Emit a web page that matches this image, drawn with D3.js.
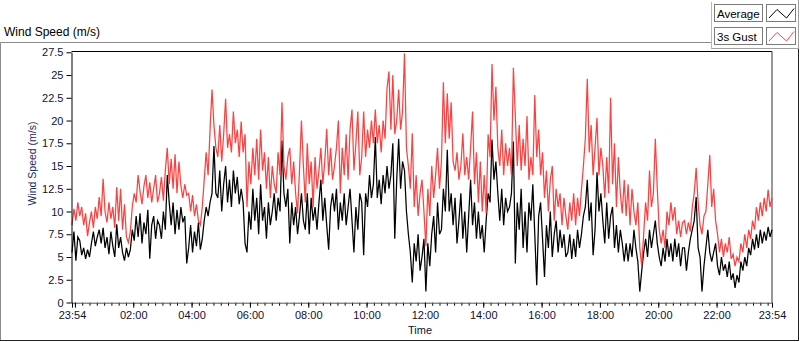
<!DOCTYPE html>
<html><head><meta charset="utf-8">
<script src="https://cdn.jsdelivr.net/npm/d3@7"></script>
<style>body{margin:0;background:#fff}svg{display:block}text{font-family:"Liberation Sans",Arial,sans-serif}</style>
</head><body><svg id="c" width="800" height="342"></svg>
<script>
// ---- data (one sample every 4 minutes, starting 23:54) ----
const stepMinutes = 4;
const avgSpeed = [
 5.5,7.8,4.6,7.2,6.8,5.2,6.0,4.8,5.8,5.0,6.5,7.8,6.2,7.2,8.0,
 6.5,8.2,6.0,7.2,5.3,7.8,6.2,5.0,8.6,6.0,7.2,5.5,4.6,6.0,5.0,
 5.8,8.0,6.8,9.5,7.2,9.8,6.5,8.8,7.5,10.2,4.8,8.5,9.5,7.0,9.0,
 8.5,7.0,10.0,8.0,14.0,11.0,8.5,11.0,7.5,10.2,8.0,10.5,8.8,9.5,4.3,
 6.0,8.5,5.5,7.8,6.2,8.8,5.8,7.0,9.0,10.5,9.5,11.0,12.0,17.2,12.0,
 11.5,14.5,10.0,13.0,15.0,11.0,13.5,10.5,14.5,12.0,13.8,10.8,12.5,11.0,6.5,
 5.5,10.0,8.0,12.5,9.0,11.5,7.5,13.0,9.0,10.5,7.0,11.0,8.5,10.0,12.0,
 9.0,11.5,10.0,17.8,12.0,10.5,12.5,6.5,11.0,8.5,10.5,7.5,9.5,12.0,9.0,
 8.0,12.0,7.5,11.5,9.0,10.5,8.0,11.0,13.5,9.0,11.5,8.5,5.8,10.5,12.0,
 10.0,12.5,8.0,11.0,9.0,12.0,8.5,10.5,12.5,9.0,5.5,10.5,8.0,12.0,11.0,
 5.2,12.0,10.5,14.0,11.5,13.0,18.2,11.5,13.5,10.8,14.0,12.0,15.0,12.5,14.0,
 17.5,7.0,13.5,18.0,12.5,15.5,14.5,10.0,7.5,5.5,2.2,6.5,4.5,7.5,3.5,
 5.0,7.0,1.2,6.5,4.0,7.5,9.5,5.5,11.0,7.5,8.0,12.5,10.0,16.8,10.0,
 12.0,8.5,11.5,6.5,9.0,12.0,7.0,10.0,5.5,9.5,13.5,8.5,11.0,7.0,10.0,
 7.0,8.5,5.5,9.0,12.0,11.0,17.9,13.5,15.5,12.0,9.0,12.5,8.5,11.5,10.0,
 10.5,12.0,17.7,4.3,11.0,8.0,12.5,6.0,10.0,5.5,11.0,9.0,13.0,7.5,1.9,
 9.5,11.0,7.0,2.8,8.5,6.0,10.0,5.0,7.5,9.0,5.5,8.0,6.0,7.5,5.0,
 5.5,7.5,4.8,7.0,5.0,8.0,6.0,7.5,9.5,10.5,13.5,9.0,11.0,5.2,8.0,
 14.3,10.0,12.0,9.0,6.5,11.0,7.0,9.5,10.5,6.0,8.5,5.5,8.0,6.5,4.5,
 6.5,4.5,6.5,5.0,8.0,6.0,4.5,1.2,3.5,5.5,7.0,5.0,8.0,6.0,7.5,
 9.0,6.5,5.0,4.0,6.0,4.5,7.0,5.0,6.5,4.5,7.0,5.0,6.5,4.0,6.0,
 6.0,3.5,5.5,7.0,8.0,9.0,11.6,6.0,5.0,1.2,4.0,6.0,8.0,5.5,4.5,
 5.5,6.5,4.0,3.0,5.0,3.5,4.2,2.8,4.5,2.5,3.2,1.6,3.0,2.2,4.5,
 3.5,5.0,4.0,6.0,5.2,7.0,5.8,7.5,6.0,8.0,6.5,7.8,6.8,8.3,7.2,8.0
];
const gustSpeed = [
 8.5,10.3,9.0,11.0,9.5,10.5,8.5,9.8,7.3,8.8,10.0,8.2,10.5,9.2,11.6,
 9.5,13.6,10.0,8.8,11.0,9.2,10.5,8.2,12.7,9.0,12.5,8.0,10.8,7.2,6.6,
 7.8,10.5,12.0,11.0,14.0,12.2,10.8,12.8,14.0,11.5,13.2,11.0,12.5,14.0,11.0,
 12.0,13.8,11.2,14.5,17.0,13.0,15.8,12.5,16.3,12.0,15.5,12.8,11.5,13.0,11.8,
 12.0,10.0,11.8,9.5,10.8,9.0,8.5,10.5,13.5,16.5,14.0,19.0,23.4,19.5,17.0,
 16.0,19.5,15.5,18.5,22.4,17.0,18.5,16.5,21.0,17.5,19.0,16.0,19.9,16.5,18.5,
 10.5,15.5,13.0,17.0,14.0,18.0,13.5,19.0,14.5,16.5,12.5,16.0,11.5,15.0,13.0,
 12.0,16.5,14.0,22.0,15.0,13.5,16.0,17.0,13.0,15.5,12.0,9.8,14.5,20.0,15.0,
 11.0,17.5,13.0,15.5,10.5,16.0,12.5,14.5,17.0,13.0,15.5,19.1,14.0,17.0,13.5,
 15.0,17.0,20.0,12.0,17.0,14.0,18.5,13.5,19.0,21.2,14.5,17.5,21.0,14.0,16.0,
 21.0,16.0,19.0,17.0,20.0,17.5,21.2,17.5,19.5,16.5,20.0,18.0,23.5,25.4,19.0,
 25.0,18.5,20.0,23.4,19.0,21.0,27.4,17.0,15.0,12.5,18.6,10.5,14.0,9.5,12.0,
 13.5,10.0,6.2,12.5,9.5,15.0,11.5,14.0,17.0,12.5,15.5,24.2,17.5,23.0,18.0,
 22.0,15.5,14.5,16.5,13.5,15.0,18.6,14.0,16.0,13.5,17.0,21.0,13.0,16.5,11.0,
 15.5,10.0,14.0,9.8,18.5,16.0,26.2,20.0,23.7,17.0,15.0,19.0,14.0,17.5,15.0,
 17.0,14.0,25.8,20.5,15.0,19.5,14.5,18.0,15.0,20.5,13.5,16.0,14.0,22.8,16.0,
 19.0,14.0,16.5,11.5,14.5,10.0,13.5,15.0,9.0,12.5,10.5,12.0,8.5,11.5,9.5,
 8.0,11.0,9.0,12.0,8.5,11.5,9.5,12.4,15.0,18.0,24.6,16.5,19.5,14.0,17.0,
 20.3,14.0,17.0,15.0,11.5,16.0,12.0,22.5,13.0,17.5,10.5,16.0,12.0,9.8,13.5,
 9.5,13.0,8.5,12.5,10.0,8.5,11.0,6.0,4.0,7.5,11.0,9.0,14.5,10.5,12.0,
 18.0,12.5,8.0,6.5,8.0,6.0,10.0,8.5,11.0,9.0,10.5,7.5,9.0,7.2,8.8,
 9.0,7.5,8.8,7.8,10.5,12.0,14.8,11.0,8.5,7.5,9.5,10.0,13.0,16.2,10.5,
 12.5,9.0,7.5,5.5,7.0,5.0,6.5,5.5,7.2,4.8,5.3,4.0,5.0,4.5,6.5,
 5.5,7.5,6.0,8.0,7.0,9.0,8.0,10.5,9.0,11.0,9.5,11.5,10.0,12.4,10.5,11.5
];
const yTicks = [0,2.5,5,7.5,10,12.5,15,17.5,20,22.5,25,27.5];
const xTickLabels = ["23:54","02:00","04:00","06:00","08:00","10:00","12:00","14:00","16:00","18:00","20:00","22:00","23:54"];
const seriesNames = ["Average","3s Gust"];
const chartTitle = "Wind Speed (m/s)";
const yTitle = "Wind Speed (m/s)";
const xTitle = "Time";

// ---- styles ----
const colors = {avg:"#000000", gust:"#ff4040", text:"#101030", ylabel:"#162a5c", frameGray:"#8a8a8a"};

const svg = d3.select("#c");
const L = 71.5, R = 772, T = 51.5, B = 302.7;

const t0 = new Date(2020,0,1,23,54);
const t1 = new Date(2020,0,2,23,54);
const x = d3.scaleTime().domain([t0,t1]).range([72,772]);
const y = d3.scaleLinear().domain([0,27.5]).range([302.5,52.3]);
const tAt = i => new Date(t0.getTime() + i*stepMinutes*60000);

// outer frame
svg.append("line").attr("x1",0.5).attr("y1",42.5).attr("x2",711.5).attr("y2",42.5).attr("stroke",colors.frameGray);
svg.append("line").attr("x1",0.5).attr("y1",42.5).attr("x2",0.5).attr("y2",341).attr("stroke",colors.frameGray);
svg.append("line").attr("x1",0).attr("y1",340.5).attr("x2",799).attr("y2",340.5).attr("stroke","#222");
svg.append("line").attr("x1",798.5).attr("y1",49).attr("x2",798.5).attr("y2",341).attr("stroke","#222");

// title
svg.append("text").attr("x",4).attr("y",36).attr("font-size",12).attr("fill","#000").text(chartTitle);

// legend panel
svg.append("line").attr("x1",711.5).attr("y1",2).attr("x2",711.5).attr("y2",49).attr("stroke","#b8b8b8");
svg.append("line").attr("x1",711.5).attr("y1",48.5).attr("x2",799).attr("y2",48.5).attr("stroke","#a0a0a0");
svg.append("line").attr("x1",798.5).attr("y1",0).attr("x2",798.5).attr("y2",49).attr("stroke","#a0a0a0");
const legendData = [{name:seriesNames[0], color:colors.avg},{name:seriesNames[1], color:colors.gust}];
const lg = svg.append("g").selectAll("g").data(legendData).join("g")
  .attr("transform",(d,i)=>`translate(0,${i*23})`);
lg.append("rect").attr("x",714.5).attr("y",4.5).attr("width",48).attr("height",17).attr("fill","#fff").attr("stroke","#7a7a7a");
lg.append("text").attr("x",717).attr("y",17.5).attr("font-size",11.5).attr("fill","#000").text(d=>d.name);
lg.append("rect").attr("x",766.5).attr("y",4.5).attr("width",29).attr("height",17).attr("fill","#fff").attr("stroke","#7a7a7a");
lg.append("polyline").attr("points","769,18 777,9.5 786.5,18 794,8.5").attr("fill","none").attr("stroke",d=>d.color);

// plot frame
svg.append("line").attr("x1",L).attr("y1",T).attr("x2",R).attr("y2",T).attr("stroke","#000");
svg.append("line").attr("x1",R).attr("y1",T).attr("x2",R).attr("y2",B).attr("stroke","#333");

// series
const line = d3.line().x((d,i)=>x(tAt(i))).y(d=>y(d));
svg.append("path").datum(avgSpeed).attr("d",line).attr("fill","none").attr("stroke",colors.avg).attr("stroke-width",1.25);
svg.append("path").datum(gustSpeed).attr("d",line).attr("fill","none").attr("stroke",colors.gust).attr("stroke-width",1.25);

// y axis
const yAxis = svg.append("g").attr("transform",`translate(${L},0)`)
  .call(d3.axisLeft(y).tickValues(yTicks).tickSize(5).tickSizeOuter(0).tickPadding(3).tickFormat(d=>String(d)));
yAxis.select(".domain").attr("stroke","#000");
yAxis.selectAll(".tick line").attr("stroke","#000");
yAxis.selectAll("text").attr("font-size",11).attr("fill",colors.text).attr("font-family","Liberation Sans, Arial, sans-serif");

// x axis: minor ticks every 15 min
const minor = d3.timeMinute.every(15).range(new Date(2020,0,2,0,0), t1);
const xMinor = svg.append("g").attr("transform",`translate(0,${B})`)
  .call(d3.axisBottom(x).tickValues(minor).tickSize(3).tickSizeOuter(0).tickFormat(""));
xMinor.select(".domain").remove();
xMinor.selectAll(".tick line").attr("stroke","#000");
// majors
const majorTimes = [t0].concat(d3.timeHour.every(2).range(new Date(2020,0,2,0,0), t1)).concat([t1]);
const xAxis = svg.append("g").attr("transform",`translate(0,${B})`)
  .call(d3.axisBottom(x).tickValues(majorTimes).tickSize(5).tickSizeOuter(0).tickPadding(4)
    .tickFormat((d,i)=>{ if(i===0) return xTickLabels[0]; if(i===majorTimes.length-1) return xTickLabels[xTickLabels.length-1]; if(d.getHours()===0) return ""; return xTickLabels[d.getHours()/2]; }));
xAxis.select(".domain").attr("stroke","#555").attr("d",`M${L},0.5H${R}`);
xAxis.selectAll(".tick line").attr("stroke","#000");
xAxis.selectAll("text").attr("font-size",11).attr("fill",colors.text).attr("font-family","Liberation Sans, Arial, sans-serif");

// axis titles
svg.append("text").attr("transform","translate(36,163.5) rotate(-90)").attr("text-anchor","middle")
  .attr("font-size",10.5).attr("fill",colors.ylabel).text(yTitle);
svg.append("text").attr("x",420).attr("y",334).attr("text-anchor","middle").attr("font-size",11).attr("fill",colors.text).text(xTitle);
</script></body></html>
